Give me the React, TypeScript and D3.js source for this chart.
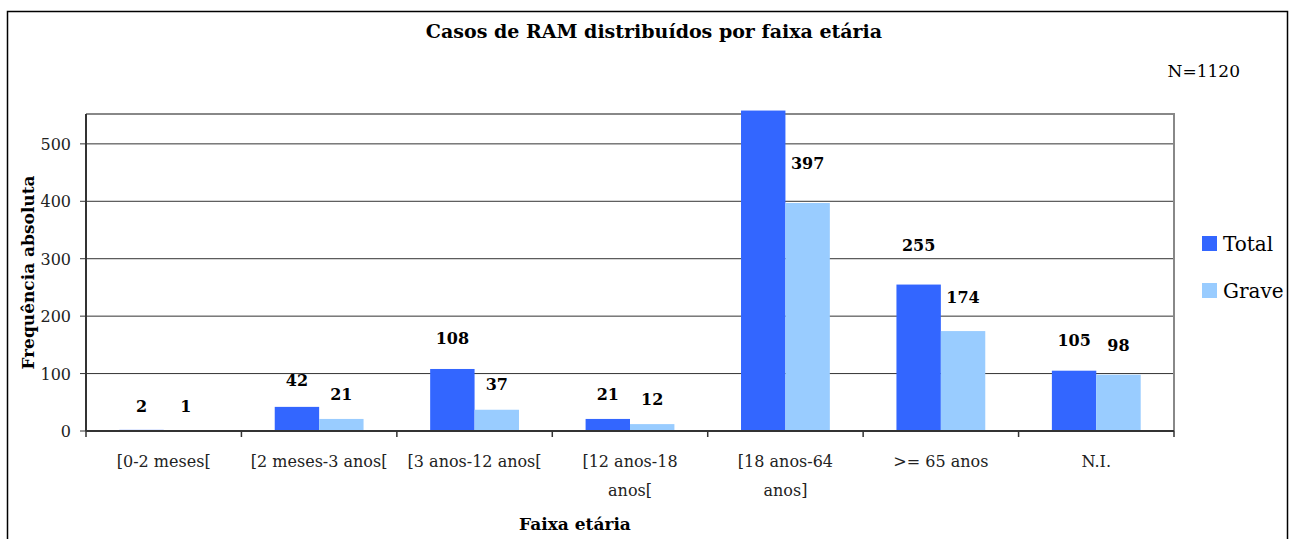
import React from 'react';
import * as d3 from 'd3';

const categories = [
  ['[0-2 meses['],
  ['[2 meses-3 anos['],
  ['[3 anos-12 anos['],
  ['[12 anos-18', 'anos['],
  ['[18 anos-64', 'anos]'],
  ['>= 65 anos'],
  ['N.I.'],
];
const totalValues = [2, 42, 108, 21, 558, 255, 105];
const graveValues = [1, 21, 37, 12, 397, 174, 98];
// Excel left the 18-64 total label out
const totalLabels = ['2', '42', '108', '21', '', '255', '105'];
const graveLabels = ['1', '21', '37', '12', '397', '174', '98'];
const yTicks = [0, 100, 200, 300, 400, 500];
const seriesNames = ['Total', 'Grave'];
const colors = ['#3366FF', '#99CCFF'];

const W = 1290;
const H = 539;
const font = '"DejaVu Serif", serif';
const plot = { left: 86, top: 114, right: 1174, bottom: 431 };

export default function App() {
  const x = d3
    .scaleBand<number>()
    .domain(d3.range(categories.length))
    .range([plot.left, plot.right]);
  const y = d3
    .scaleLinear()
    .domain([0, 552])
    .range([plot.bottom, plot.top]);
  const inner = d3
    .scaleBand<number>()
    .domain([0, 1])
    .range([0, x.bandwidth()])
    .paddingOuter(0.75)
    .paddingInner(0);

  const series = [totalValues, graveValues];
  const labels = [totalLabels, graveLabels];
  const bounds = d3.range(categories.length + 1).map((i) =>
    i < categories.length ? (x(i) as number) : plot.right
  );
  // labels sit a bit higher over the taller bars, like in the original
  const labelGap = (v: number) => Math.min(40, 24 + 0.06 * v);

  return (
    <svg
      width={W}
      height={H}
      style={{ position: 'absolute', left: 0, top: 0, background: '#fff' }}
      fontFamily={font}
    >
      <rect x={7.5} y={11.5} width={1280} height={560} fill="none" stroke="#000" strokeWidth={1.5} />

      <text x={654} y={38} textAnchor="middle" fontWeight="bold" fontSize={19}>
        Casos de RAM distribuídos por faixa etária
      </text>
      <text x={1240} y={77} textAnchor="end" fontSize={17}>
        N=1120
      </text>

      {/* gridlines */}
      {yTicks.map((t) => (
        <g key={t}>
          <line x1={80} x2={plot.right} y1={y(t)} y2={y(t)} stroke="#333" strokeWidth={1} />
          <text x={71} y={y(t) + 6} textAnchor="end" fontSize={16} fill="#222">
            {t}
          </text>
        </g>
      ))}

      {/* plot frame */}
      <polyline
        points={`${plot.left},${plot.top} ${plot.right},${plot.top} ${plot.right},${plot.bottom}`}
        fill="none"
        stroke="#888"
        strokeWidth={2}
      />

      {/* bars */}
      {series.map((vals, s) =>
        vals.map((v, i) => {
          const bx = (x(i) as number) + (inner(s) as number);
          return (
            <rect
              key={`${s}-${i}`}
              x={bx}
              y={y(v)}
              width={inner.bandwidth()}
              height={plot.bottom - y(v)}
              fill={colors[s]}
            />
          );
        })
      )}

      {/* data labels */}
      {series.map((vals, s) =>
        vals.map((v, i) => (
          <text
            key={`l${s}-${i}`}
            x={(x(i) as number) + (inner(s) as number) + inner.bandwidth() / 2}
            y={y(v) - labelGap(v) + 6}
            textAnchor="middle"
            fontWeight="bold"
            fontSize={16}
          >
            {labels[s][i]}
          </text>
        ))
      )}

      {/* axes */}
      <line x1={plot.left} x2={plot.left} y1={plot.top} y2={plot.bottom} stroke="#333" strokeWidth={2} />
      <line x1={plot.left} x2={plot.right} y1={plot.bottom} y2={plot.bottom} stroke="#333" strokeWidth={2} />
      {bounds.map((b, i) => (
        <line key={i} x1={b} x2={b} y1={plot.bottom} y2={plot.bottom + 6} stroke="#333" strokeWidth={1.5} />
      ))}

      {categories.map((lines, i) => (
        <text
          key={i}
          x={(x(i) as number) + x.bandwidth() / 2}
          y={467}
          textAnchor="middle"
          fontSize={16}
          fill="#222"
        >
          {lines.map((ln, k) => (
            <tspan key={k} x={(x(i) as number) + x.bandwidth() / 2} dy={k === 0 ? 0 : 29}>
              {ln}
            </tspan>
          ))}
        </text>
      ))}

      <text x={575} y={530} textAnchor="middle" fontWeight="bold" fontSize={17}>
        Faixa etária
      </text>
      <text
        transform={`translate(34, ${(plot.top + plot.bottom) / 2}) rotate(-90)`}
        textAnchor="middle"
        fontWeight="bold"
        fontSize={17}
      >
        Frequência absoluta
      </text>

      {/* legend */}
      {seriesNames.map((name, s) => (
        <g key={name} transform={`translate(1202, ${236 + s * 47})`}>
          <rect width={15} height={15} fill={colors[s]} />
          <text x={21} y={15} fontSize={20}>
            {name}
          </text>
        </g>
      ))}
    </svg>
  );
}
